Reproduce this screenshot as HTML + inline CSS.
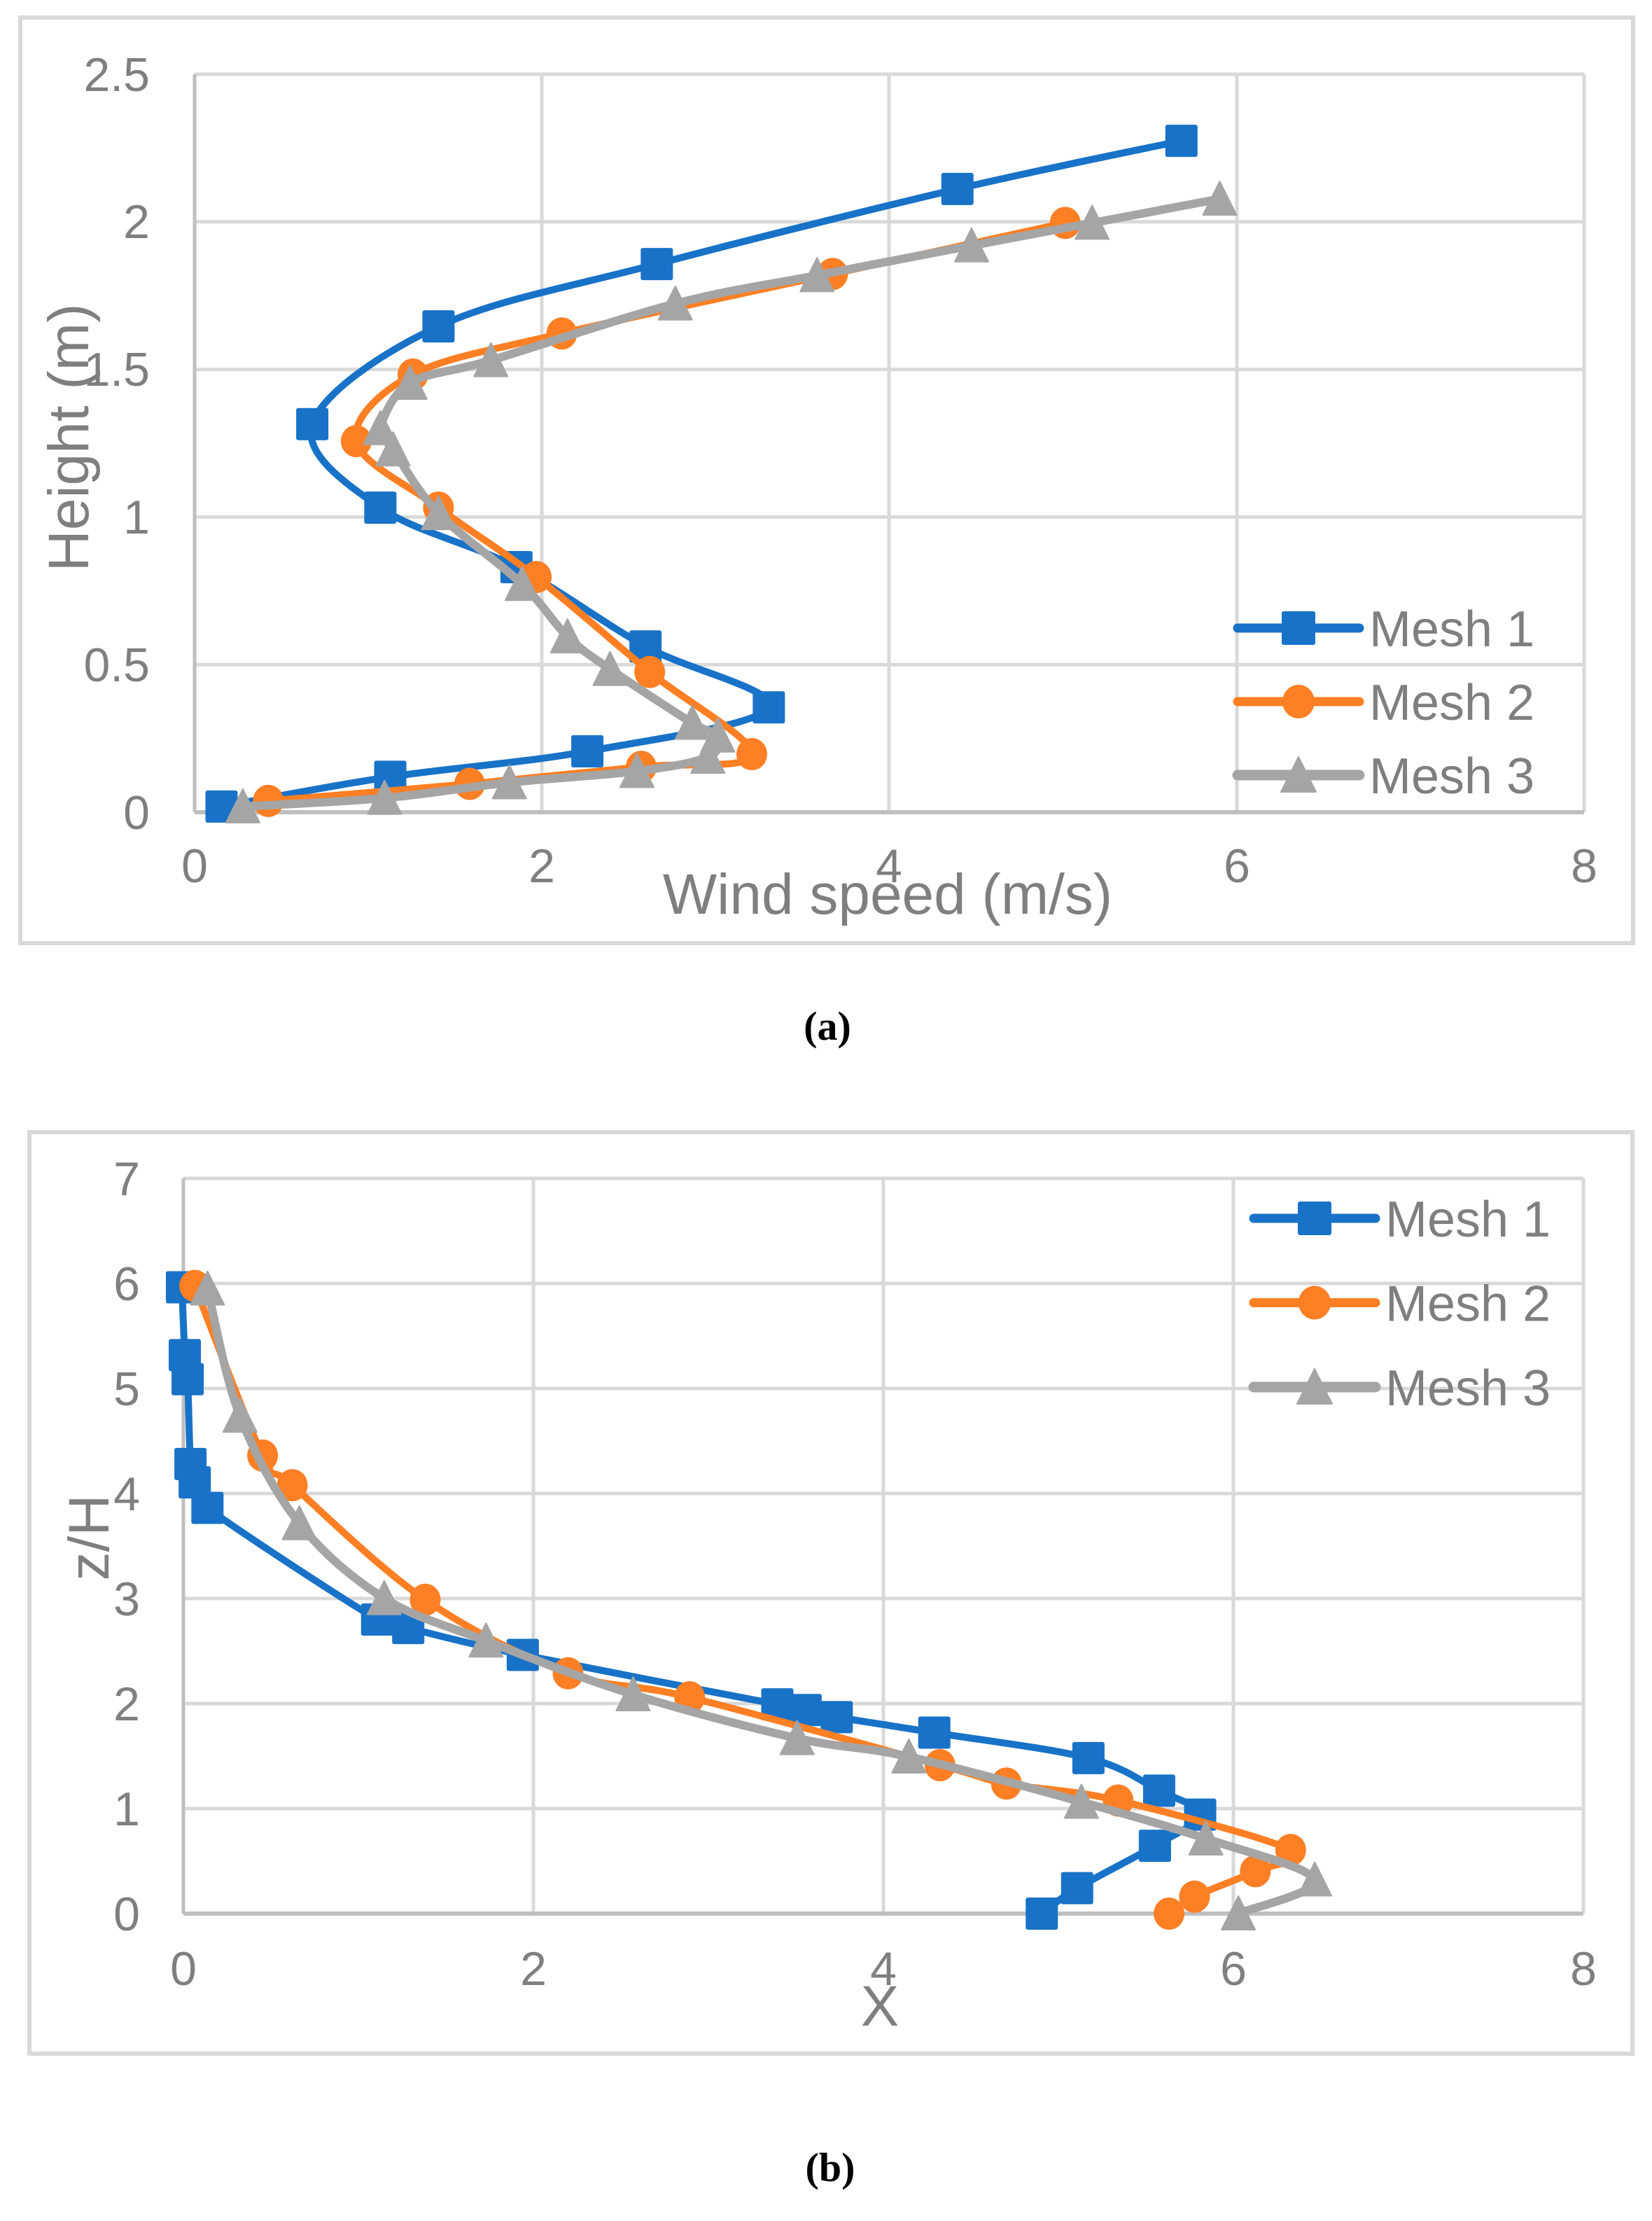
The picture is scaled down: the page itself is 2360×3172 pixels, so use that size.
<!DOCTYPE html>
<html><head><meta charset="utf-8">
<style>
html,body{margin:0;padding:0;background:#fff;}
svg{display:block;}
text{font-family:"Liberation Sans",sans-serif;fill:#7f7f7f;}
text.cap{font-family:"Liberation Serif",serif;font-weight:bold;fill:#000;}
</style></head>
<body>
<svg id="s" width="2360" height="3172" viewBox="0 0 2360 3172" xmlns="http://www.w3.org/2000/svg">
<rect width="2360" height="3172" fill="#fff"/>
<rect x="29" y="25" width="2304" height="1322" fill="none" stroke="#d9d9d9" stroke-width="6"/>
<rect x="42" y="1617" width="2290" height="1316" fill="none" stroke="#d9d9d9" stroke-width="6"/>
<g id="ga"></g>
<g id="gb"></g>
<g font-size="68" text-anchor="end">
<text x="214" y="1184">0</text>
<text x="214" y="973">0.5</text>
<text x="214" y="762">1</text>
<text x="214" y="551">1.5</text>
<text x="214" y="340">2</text>
<text x="214" y="130">2.5</text>
</g>
<g font-size="68" text-anchor="middle">
<text x="278" y="1260">0</text>
<text x="774" y="1260">2</text>
<text x="1270" y="1260">4</text>
<text x="1767" y="1260">6</text>
<text x="2263" y="1260">8</text>
</g>
<text x="1268" y="1305" font-size="82" text-anchor="middle">Wind speed (m/s)</text>
<text transform="translate(126,625) rotate(-90)" font-size="82" text-anchor="middle">Height (m)</text>
<g font-size="68" text-anchor="end">
<text x="200" y="2757">0</text>
<text x="200" y="2607">1</text>
<text x="200" y="2457">2</text>
<text x="200" y="2307">3</text>
<text x="200" y="2157">4</text>
<text x="200" y="2007">5</text>
<text x="200" y="1857">6</text>
<text x="200" y="1707">7</text>
</g>
<g font-size="68" text-anchor="middle">
<text x="262" y="2835">0</text>
<text x="762" y="2835">2</text>
<text x="1262" y="2835">4</text>
<text x="1762" y="2835">6</text>
<text x="2262" y="2835">8</text>
</g>
<text x="1257" y="2893" font-size="82" text-anchor="middle">X</text>
<text transform="translate(155,2196) rotate(-90)" font-size="82" text-anchor="middle">z/H</text>
<text class="cap" x="1182" y="1485" font-size="58" text-anchor="middle" style="font-family:'Liberation Serif',serif;font-weight:bold;fill:#000">(a)</text>
<text class="cap" x="1186" y="3115" font-size="58" text-anchor="middle" style="font-family:'Liberation Serif',serif;font-weight:bold;fill:#000">(b)</text>
</svg>
<script>
var NS="http://www.w3.org/2000/svg";
function el(p,t,a){var e=document.createElementNS(NS,t);for(var k in a)e.setAttribute(k,a[k]);p.appendChild(e);return e;}
var C={b:"#1872c8",o:"#fe7f24",g:"#a5a5a5"};
function smooth(pts){var d="M"+pts[0][0].toFixed(1)+","+pts[0][1].toFixed(1);
for(var i=0;i<pts.length-1;i++){var p0=pts[i-1]||pts[i],p1=pts[i],p2=pts[i+1],p3=pts[i+2]||p2;var t=1/6;
var c1=[p1[0]+(p2[0]-p0[0])*t,p1[1]+(p2[1]-p0[1])*t],c2=[p2[0]-(p3[0]-p1[0])*t,p2[1]-(p3[1]-p1[1])*t];
d+=" C"+c1.join(",")+" "+c2.join(",")+" "+p2.join(",");}return d;}
function marker(g,type,x,y,col,s){s=s||46;
 if(type=="sq")el(g,"rect",{x:x-s/2,y:y-s/2,width:s,height:s,rx:3,fill:col});
 else if(type=="ci")el(g,"ellipse",{cx:x,cy:y,rx:s/2-1,ry:s/2,fill:col});
 else el(g,"polygon",{points:(x)+","+(y-s/2-2)+" "+(x+s/2+1)+","+(y+s/2)+" "+(x-s/2-1)+","+(y+s/2),fill:col,"stroke":col,"stroke-width":2,"stroke-linejoin":"round"});}
function chart(g,xs,ys,axX,axY,series,map,leg){
 xs.forEach(function(x,i){if(i>0)el(g,"line",{x1:x,y1:ys[ys.length-1],x2:x,y2:axY,stroke:"#d9d9d9","stroke-width":5});});
 ys.forEach(function(y,i){if(i>0)el(g,"line",{x1:axX,y1:y,x2:xs[xs.length-1],y2:y,stroke:"#d9d9d9","stroke-width":5});});
 el(g,"line",{x1:axX,y1:ys[ys.length-1],x2:axX,y2:axY,stroke:"#bfbfbf","stroke-width":5});
 el(g,"line",{x1:axX,y1:axY,x2:xs[xs.length-1],y2:axY,stroke:"#bfbfbf","stroke-width":6});
 series.forEach(function(s){var pts=s.p.map(map);
  el(g,"path",{d:smooth(pts),fill:"none",stroke:C[s.c],"stroke-width":s.c=="g"?12:10,"stroke-linejoin":"round","stroke-linecap":"round"});
  pts.forEach(function(p){marker(g,s.m,p[0],p[1],C[s.c]);});});
 leg.rows.forEach(function(r,i){var y=leg.y0+i*leg.dy;
  el(g,"line",{x1:leg.x1,y1:y,x2:leg.x2,y2:y,stroke:C[r.c],"stroke-width":r.c=="g"?15:13,"stroke-linecap":"round"});
  marker(g,r.m,(leg.x1+leg.x2)/2,y,C[r.c],48);
  var t=el(g,"text",{x:leg.x2+14,y:y+26,"font-size":72});t.textContent=r.t;});
}
var sa=[{c:"b",m:"sq",p:[[157,569],[276,548],[415,530],[543,499],[456,456],[365,400],[269,358],[221,299],[310,230],[464,186],[676,133],[834,99]]},
{c:"o",m:"ci",p:[[190,565],[332,553],[453,541],[531,532],[459,474],[379,407],[310,358],[252,311],[292,264],[397,235],[588,193],[752,157]]},
{c:"g",m:"tr",p:[[172,569],[272,563],[360,552],[450,544],[500,534],[507,519],[489,510],[431,472],[401,449],[369,412],[310,362],[278,317],[269,302],[290,270],[347,254],[477,214],[577,194],[686,173],[771,157],[861,140]]}];
chart(document.getElementById("ga"),[278,774,1270,1767,2263],[1160,949.2,738.4,527.6,316.8,106],278,1160,sa,
 function(p){return [278+(p[0]-138)*1985/980,1160-(573-p[1])*1054/521];},
 {x1:1768,x2:1942,y0:897,dy:105,rows:[{c:"b",m:"sq",t:"Mesh 1"},{c:"o",m:"ci",t:"Mesh 2"},{c:"g",m:"tr",t:"Mesh 3"}]});
var sb=[{c:"b",m:"sq",p:[[735,1350],[760,1332],[815,1302],[847,1280],[818,1263],[768,1240],[659,1222],[590,1211],[568,1206],[548,1202],[368,1167],[287,1148],[265,1142],[145,1063],[136,1045],[133,1032],[131,972],[129,955],[127,907]]},
{c:"o",m:"ci",p:[[825,1350],[843,1338],[886,1320],[911,1305],[789,1270],[710,1258],[663,1245],[486,1197],[400,1180],[299,1128],[205,1047],[184,1026],[136,906]]},
{c:"g",m:"tr",p:[[874,1350],[928,1326],[851,1297],[763,1271],[641,1239],[562,1226],[446,1195],[342,1157],[270,1127],[210,1074],[168,998],[145,908]]}];
var yb=[];for(var k=0;k<=7;k++)yb.push(2733-k*150);
chart(document.getElementById("gb"),[262,762,1262,1762,2262],yb,262,2733,sb,
 function(p){return [262+(p[0]-128)*2000/990,2733-(1350-p[1])*1050/520];},
 {x1:1791,x2:1965,y0:1740,dy:120.5,rows:[{c:"b",m:"sq",t:"Mesh 1"},{c:"o",m:"ci",t:"Mesh 2"},{c:"g",m:"tr",t:"Mesh 3"}]});
</script>
</body></html>
